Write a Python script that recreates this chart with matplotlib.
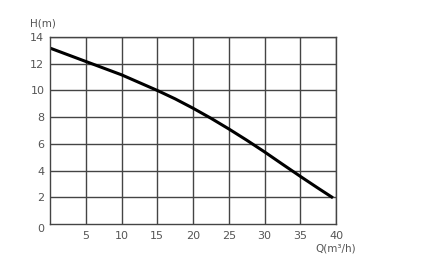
import matplotlib.pyplot as plt

# pump curve
flow = [0, 5, 10, 15, 17.5, 20, 22.5, 25, 27.5, 30, 32.5, 35, 37.5, 39.4]
head = [13.17, 12.17, 11.17, 10.0, 9.37, 8.67, 7.92, 7.12, 6.28, 5.4, 4.48, 3.57, 2.68, 2.02]
x_ticks = [5, 10, 15, 20, 25, 30, 35, 40]
y_ticks = [2, 4, 6, 8, 10, 12, 14]

fig = plt.figure(figsize=(4.21, 2.76), dpi=100)
ax = fig.add_axes([50 / 421, 1 - 224 / 276, 286 / 421, 187 / 276])

ax.set_xlim(0, 40)
ax.set_ylim(0, 14)
ax.set_xticks(x_ticks)
ax.set_yticks(y_ticks)
ax.grid(True, color='#444444', linewidth=1.0)
ax.set_axisbelow(True)
for s in ax.spines.values():
    s.set_color('#444444')
    s.set_linewidth(1.0)
ax.tick_params(length=0, labelsize=8, labelcolor='#555555')
ax.tick_params(axis='x', pad=5)
ax.tick_params(axis='y', pad=4)

ax.plot(flow, head, color='black', linewidth=2.2, solid_joinstyle='round')

tr = ax.transAxes
ax.text(-0.033, -0.027, '0', transform=tr, ha='center', va='center', fontsize=8, color='#555555')
ax.text(-0.024, 1.045, 'H(m)', transform=tr, ha='center', va='bottom', fontsize=7.5, color='#555555')
ax.text(1.0, -0.105, 'Q(m³/h)', transform=tr, ha='center', va='top', fontsize=7.5, color='#555555')

fig.savefig('out.png', dpi=100)
